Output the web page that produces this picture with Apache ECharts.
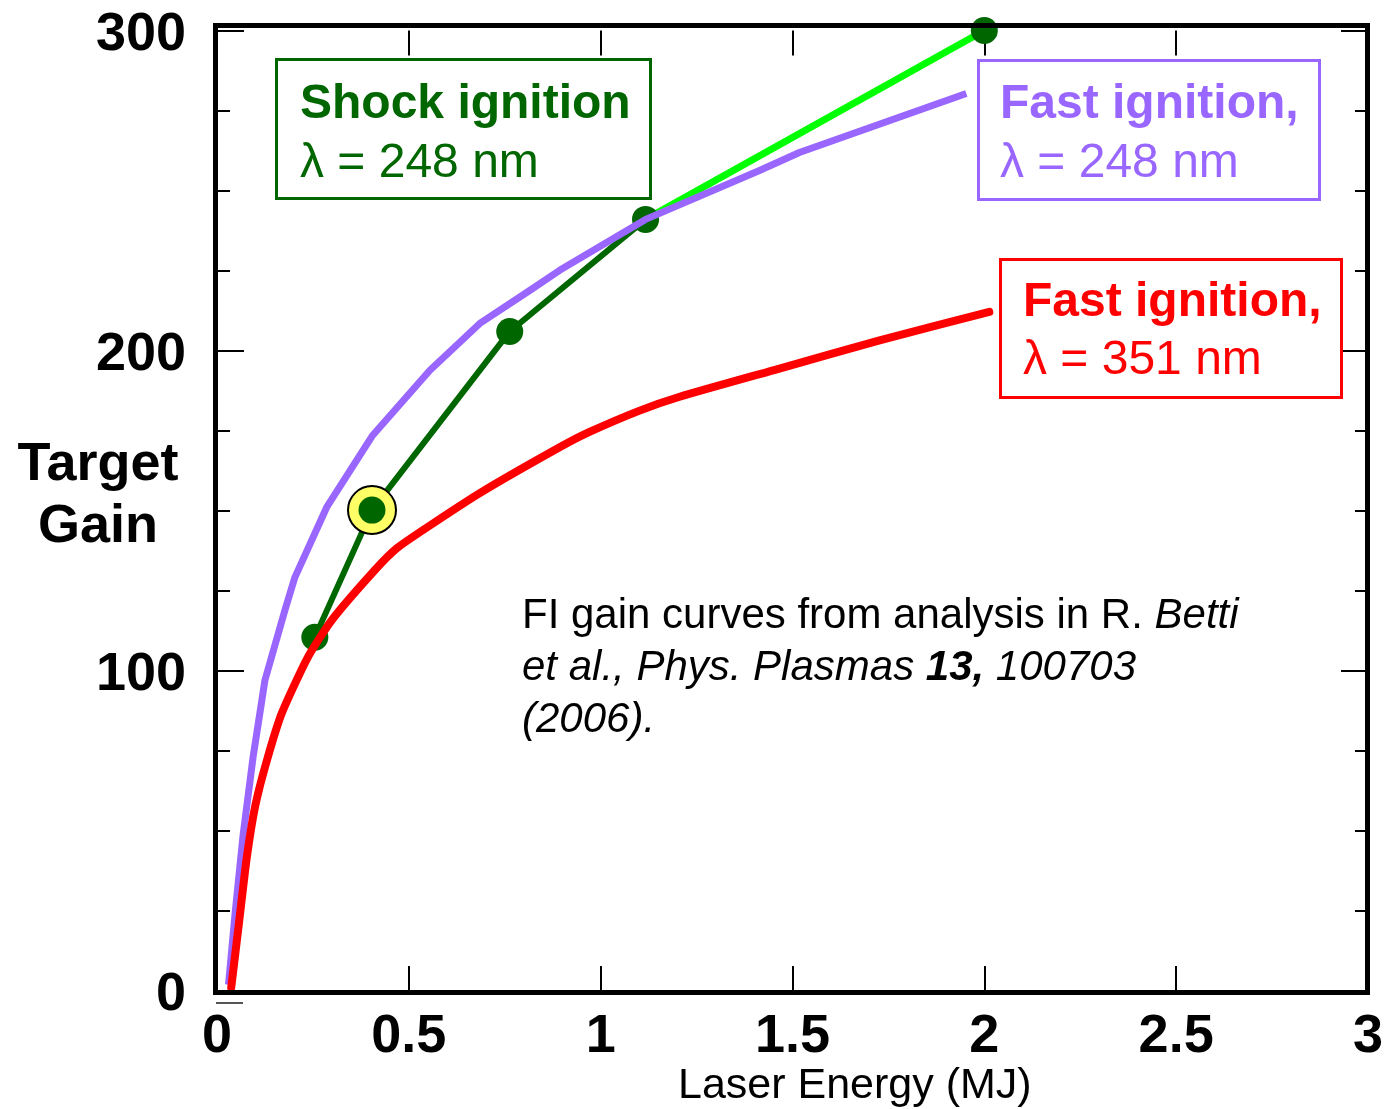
<!DOCTYPE html>
<html><head><meta charset="utf-8">
<script src="https://cdn.jsdelivr.net/npm/echarts/dist/echarts.min.js"></script>
<style>html,body{margin:0;padding:0;background:#fff}#c{width:1386px;height:1109px}</style>
</head><body><div id="c"></div>
<script>
// ---- data ----
const xTicks = [0, 0.5, 1, 1.5, 2, 2.5, 3];
const yTicks = [0, 100, 200, 300];
// Fast ignition, lambda = 351 nm  [laser energy MJ, target gain]
const fi351 = [[0.037,1],[0.058,22],[0.078,42],[0.1,58],[0.13,72],[0.169,86.8],[0.237,104.3],[0.299,115.8],[0.411,131.4],[0.469,138.3],[0.55,145],[0.685,155.5],[0.893,169.8],[0.971,174.6],[1.10,181.2],[1.206,185.6],[1.466,194.4],[1.727,203.2],[2.013,212.1]];
// Fast ignition, lambda = 248 nm
const fi248 = [[0.03,2],[0.047,24],[0.068,48.7],[0.094,73],[0.125,97.1],[0.177,118.9],[0.203,129.2],[0.286,151.1],[0.406,173.6],[0.555,193.9],[0.685,208.5],[0.815,218.8],[0.893,225.1],[1.117,241],[1.414,256.3],[1.518,261.9],[1.953,280.3]];
// Shock ignition, lambda = 248 nm
const shockIgnition = [[0.255,110.5],[0.404,150.2],[0.763,206],[1.117,241],[2.0,300]];
const highlightIndex = 1;
const brightFrom = 3;

const FONT = "'Liberation Sans', Arial, Helvetica, sans-serif";
const chart = echarts.init(document.getElementById('c'), null, {renderer: 'canvas'});

const tickStyle = {color: '#000', width: 2};
const xAxisBase = {
  type: 'value', min: xTicks[0], max: xTicks[xTicks.length-1], interval: xTicks[1]-xTicks[0],
  axisLine: {show: false, onZero: false}, splitLine: {show: false},
  axisTick: {show: true, inside: true, length: 25, lineStyle: tickStyle}
};
const yAxisBase = {
  type: 'value', min: yTicks[0], max: yTicks[yTicks.length-1], interval: yTicks[1]-yTicks[0],
  axisLine: {show: false, onZero: false}, splitLine: {show: false},
  axisTick: {show: true, inside: true, length: 27, lineStyle: tickStyle},
  minorTick: {show: true, splitNumber: 4, length: 13, lineStyle: tickStyle}
};

chart.setOption({
  animation: false,
  backgroundColor: '#fff',
  grid: {left: 217, right: 17, top: 30.5, bottom: 118},
  xAxis: [
    Object.assign({}, xAxisBase, {position: 'bottom',
      axisLabel: {show: true, color: '#000', fontSize: 54, fontWeight: 'bold', fontFamily: FONT, margin: 19}}),
    Object.assign({}, xAxisBase, {position: 'top', axisLabel: {show: false}})
  ],
  yAxis: [
    Object.assign({}, yAxisBase, {position: 'left',
      axisLabel: {show: true, margin: 31, formatter: v => '{a|' + v + '}',
        rich: {a: {color: '#000', fontSize: 54, fontWeight: 'bold', fontFamily: FONT, padding: [9, 0, 0, 0]}}}}),
    Object.assign({}, yAxisBase, {position: 'right', axisLabel: {show: false}})
  ],
  series: [
    {type: 'line', data: shockIgnition.slice(brightFrom), symbol: 'none', clip: false, z: 2,
      lineStyle: {color: '#00FF00', width: 7}},
    {type: 'line', data: shockIgnition.slice(0, brightFrom + 1), symbol: 'none', clip: false, z: 2,
      lineStyle: {color: '#006600', width: 6}},
    {type: 'scatter', data: [shockIgnition[highlightIndex]], symbol: 'circle', symbolSize: 48, clip: false, z: 3,
      itemStyle: {color: '#FFFF66', borderColor: '#000', borderWidth: 2, opacity: 1}},
    {type: 'scatter', data: shockIgnition, symbol: 'circle', symbolSize: 27, clip: false, z: 4,
      itemStyle: {color: '#006600', opacity: 1}},
    {type: 'line', data: fi248, symbol: 'none', clip: false, z: 5,
      lineStyle: {color: '#9966FF', width: 7, cap: 'butt', join: 'round'}},
    {type: 'line', data: fi351, symbol: 'none', smooth: 0.2, clip: false, z: 6,
      lineStyle: {color: '#FF0000', width: 8, cap: 'round', join: 'round'}}
  ],
  graphic: [
    // plot frame
    {type: 'rect', shape: {x: 215.5, y: 25.5, width: 1152, height: 967}, z: 100,
      style: {fill: 'none', stroke: '#000', lineWidth: 5}},
    {type: 'line', shape: {x1: 216, y1: 1003, x2: 243, y2: 1003}, z: 100,
      style: {stroke: '#555', lineWidth: 2}},
    // y axis title
    {type: 'text', x: 98, y: 434, z: 100,
      style: {text: 'Target\nGain', fill: '#000', font: 'bold 54px ' + FONT, lineHeight: 62, align: 'center', verticalAlign: 'top'}},
    // x axis title
    {type: 'text', x: 678, y: 1086, z: 100,
      style: {text: 'Laser Energy (MJ)', fill: '#000', font: '43px ' + FONT, align: 'left', verticalAlign: 'middle'}},
    // Shock ignition box
    {type: 'rect', shape: {x: 276.5, y: 59.5, width: 374, height: 139}, z: 100,
      style: {fill: '#fff', stroke: '#006600', lineWidth: 3}},
    {type: 'text', x: 300, y: 75, z: 101,
      style: {text: '{b|Shock ignition}\n{n|λ = 248 nm}', fill: '#006600', verticalAlign: 'top',
        rich: {b: {font: 'bold 48px ' + FONT, fill: '#006600', lineHeight: 59}, n: {font: '48px ' + FONT, fill: '#006600', lineHeight: 59}}}},
    // Fast ignition 248 box
    {type: 'rect', shape: {x: 978.5, y: 60.5, width: 341, height: 139}, z: 100,
      style: {fill: '#fff', stroke: '#9966FF', lineWidth: 3}},
    {type: 'text', x: 1000, y: 75, z: 101,
      style: {text: '{b|Fast ignition,}\n{n|λ = 248 nm}', fill: '#9966FF', verticalAlign: 'top',
        rich: {b: {font: 'bold 48px ' + FONT, fill: '#9966FF', lineHeight: 59}, n: {font: '48px ' + FONT, fill: '#9966FF', lineHeight: 59}}}},
    // Fast ignition 351 box
    {type: 'rect', shape: {x: 1000.5, y: 259.5, width: 341, height: 138}, z: 100,
      style: {fill: '#fff', stroke: '#FF0000', lineWidth: 3}},
    {type: 'text', x: 1023, y: 274, z: 101,
      style: {text: '{b|Fast ignition,}\n{n|λ = 351 nm}', fill: '#FF0000', verticalAlign: 'top',
        rich: {b: {font: 'bold 48px ' + FONT, fill: '#FF0000', lineHeight: 58}, n: {font: '48px ' + FONT, fill: '#FF0000', lineHeight: 58}}}},
    // citation
    {type: 'text', x: 522, y: 590, z: 101,
      style: {text: '{n|FI gain curves from analysis in R. }{i|Betti}\n{i|et al., Phys. Plasmas }{b|13,}{i| 100703}\n{i|(2006).}',
        fill: '#000', verticalAlign: 'top',
        rich: {
          n: {font: '42px ' + FONT, fill: '#000', lineHeight: 52},
          i: {font: 'italic 42px ' + FONT, fill: '#000', lineHeight: 52},
          b: {font: 'italic bold 42px ' + FONT, fill: '#000', lineHeight: 52}
        }}}
  ]
});
</script>
</body></html>
